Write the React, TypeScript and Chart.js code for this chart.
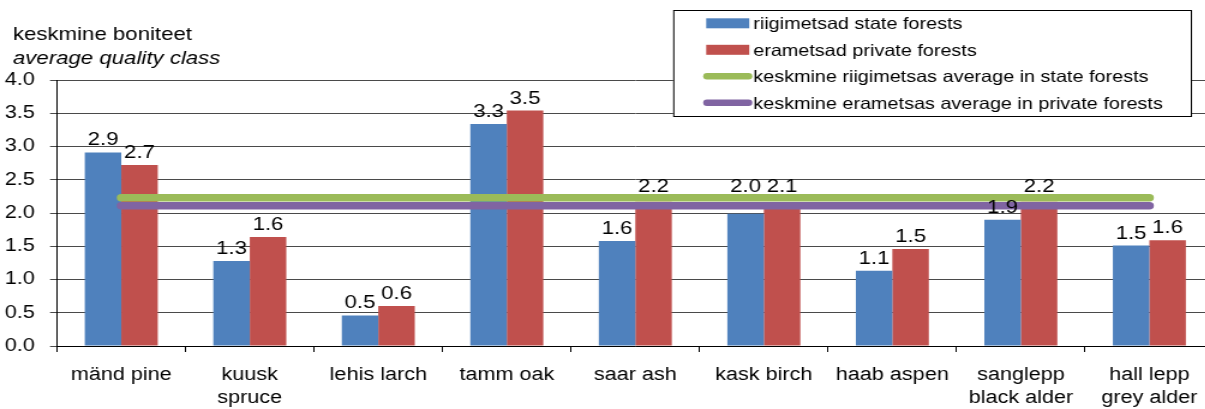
import React, { useEffect, useRef } from 'react';
import { Chart, registerables } from 'chart.js';

Chart.register(...registerables);

// ---- data ----
const CATEGORIES: (string | string[])[] = [
  'mänd pine',
  ['kuusk', 'spruce'],
  'lehis larch',
  'tamm oak',
  'saar ash',
  'kask birch',
  'haab aspen',
  ['sanglepp', 'black alder'],
  ['hall lepp', 'grey alder'],
];
const STATE_FORESTS = [2.91, 1.28, 0.46, 3.34, 1.58, 1.99, 1.13, 1.9, 1.51];
const PRIVATE_FORESTS = [2.72, 1.64, 0.6, 3.54, 2.17, 2.08, 1.46, 2.17, 1.59];
const STATE_AVERAGE = [2.23, 2.23, 2.23, 2.23, 2.23, 2.23, 2.23, 2.23, 2.23];
const PRIVATE_AVERAGE = [2.11, 2.11, 2.11, 2.11, 2.11, 2.11, 2.11, 2.11, 2.11];
const Y_TICKS = [0, 0.5, 1, 1.5, 2, 2.5, 3, 3.5, 4];
const SERIES_NAMES = [
  'riigimetsad state forests',
  'erametsad private forests',
  'keskmine riigimetsas average in state forests',
  'keskmine erametsas average in private forests',
];
const AXIS_TITLE = ['keskmine boniteet', 'average quality class'];

// ---- look ----
const FONT = '"Liberation Sans", Arial, sans-serif';
const BLUE = '#4F81BD';
const RED = '#C0504D';
const GREEN = '#9BBB59';
const PURPLE = '#8064A2';
const AVG_LINE_WIDTH = 7.5;
const STRETCH = 1.2; // the reference is drawn horizontally stretched
const CANVAS_W = 1013;
const CANVAS_H = 409;

const axisTitlePlugin = {
  id: 'axisTitle',
  afterDraw(chart: any) {
    const ctx = chart.ctx;
    ctx.save();
    ctx.fillStyle = '#000';
    ctx.textAlign = 'left';
    ctx.textBaseline = 'alphabetic';
    ctx.font = `18.5px ${FONT}`;
    ctx.fillText(AXIS_TITLE[0], 10.8, 40);
    ctx.font = `italic 18.5px ${FONT}`;
    ctx.fillText(AXIS_TITLE[1], 10.8, 64);
    ctx.restore();
  },
};

const valueLabelPlugin = {
  id: 'valueLabels',
  afterDatasetsDraw(chart: any) {
    const ctx = chart.ctx;
    const yScale = chart.scales.y;
    // band covered by the two average lines; labels falling into it are lifted above it
    const bandTop = yScale.getPixelForValue(STATE_AVERAGE[0]) - AVG_LINE_WIDTH / 2;
    const bandBottom = yScale.getPixelForValue(PRIVATE_AVERAGE[0]) + AVG_LINE_WIDTH / 2;
    ctx.save();
    ctx.fillStyle = '#000';
    ctx.font = `18.5px ${FONT}`;
    ctx.textAlign = 'center';
    ctx.textBaseline = 'alphabetic';
    chart.data.datasets.forEach((ds: any, di: number) => {
      if (ds.type !== 'bar') return;
      const meta = chart.getDatasetMeta(di);
      meta.data.forEach((el: any, i: number) => {
        const v = ds.data[i] as number;
        let base = el.y - 7;
        if (base > bandTop && base - 13 < bandBottom && base < bandBottom + 2) {
          base = bandTop - 1.5;
        }
        ctx.fillText(v.toFixed(1), el.x, base);
      });
    });
    ctx.restore();
  },
};

const legendBoxPlugin = {
  id: 'legendBox',
  afterDraw(chart: any) {
    const ctx = chart.ctx;
    const left = 560.8;
    const right = 993;
    const top = 10;
    const bottom = 117;
    ctx.save();
    ctx.fillStyle = '#fff';
    ctx.fillRect(left, top, right - left, bottom - top);
    ctx.strokeStyle = '#000';
    ctx.lineWidth = 1;
    ctx.strokeRect(left + 0.5, top + 0.5, right - left - 1, bottom - top - 1);
    const baselines = [29, 55.5, 82, 108.5];
    chart.data.datasets.forEach((ds: any, di: number) => {
      const base = baselines[di];
      const mid = base - 5.7;
      if (ds.type === 'bar') {
        ctx.fillStyle = ds.backgroundColor;
        ctx.fillRect(588.3, mid - 5, 35.9, 10);
      } else {
        ctx.strokeStyle = ds.borderColor;
        ctx.lineWidth = 6.5;
        ctx.lineCap = 'round';
        ctx.beginPath();
        ctx.moveTo(589, mid);
        ctx.lineTo(623.5, mid);
        ctx.stroke();
      }
      ctx.fillStyle = '#000';
      ctx.font = `16.5px ${FONT}`;
      ctx.textAlign = 'left';
      ctx.textBaseline = 'alphabetic';
      ctx.fillText(ds.label, 627.5, base);
    });
    ctx.restore();
  },
};

export default function App() {
  const canvasRef = useRef<HTMLCanvasElement | null>(null);

  useEffect(() => {
    document.body.style.margin = '0';
    const canvas = canvasRef.current;
    if (!canvas) return;
    Chart.defaults.font.family = FONT;
    Chart.defaults.color = '#000';
    const chart = new Chart(canvas, {
      type: 'bar',
      data: {
        labels: CATEGORIES as any,
        datasets: [
          {
            type: 'bar',
            label: SERIES_NAMES[0],
            data: STATE_FORESTS,
            backgroundColor: BLUE,
            borderWidth: 0,
            order: 1,
          },
          {
            type: 'bar',
            label: SERIES_NAMES[1],
            data: PRIVATE_FORESTS,
            backgroundColor: RED,
            borderWidth: 0,
            order: 1,
          },
          {
            type: 'line',
            label: SERIES_NAMES[2],
            data: STATE_AVERAGE,
            borderColor: GREEN,
            backgroundColor: GREEN,
            borderWidth: AVG_LINE_WIDTH,
            borderCapStyle: 'round',
            pointRadius: 0,
            fill: false,
            order: 0,
          },
          {
            type: 'line',
            label: SERIES_NAMES[3],
            data: PRIVATE_AVERAGE,
            borderColor: PURPLE,
            backgroundColor: PURPLE,
            borderWidth: AVG_LINE_WIDTH,
            borderCapStyle: 'round',
            pointRadius: 0,
            fill: false,
            order: 0,
          },
        ] as any,
      },
      options: {
        responsive: false,
        animation: false,
        devicePixelRatio: 1,
        layout: { padding: { top: 80, right: 2, left: 0, bottom: 0 } },
        datasets: {
          bar: { barPercentage: 1, categoryPercentage: 0.568 },
        },
        plugins: {
          legend: { display: false },
          tooltip: { enabled: false },
          title: { display: false },
        },
        scales: {
          x: {
            type: 'category',
            offset: true,
            grid: {
              display: true,
              drawOnChartArea: false,
              drawTicks: true,
              tickLength: 6,
              color: '#000',
              offset: true,
            },
            border: { display: true, color: '#000', width: 1 },
            ticks: {
              color: '#000',
              font: { size: 18, lineHeight: 1.28 },
              padding: 11.5,
              maxRotation: 0,
              minRotation: 0,
              autoSkip: false,
            },
            afterFit: (s: any) => {
              s.height = 63;
            },
          },
          y: {
            type: 'linear',
            min: 0,
            max: 4,
            afterBuildTicks: (s: any) => {
              s.ticks = Y_TICKS.map((v) => ({ value: v }));
            },
            ticks: {
              color: '#000',
              font: { size: 18 },
              padding: 12.7,
              callback: (v: any) => Number(v).toFixed(1),
            },
            grid: {
              color: '#4a4a4a',
              lineWidth: 1,
              drawTicks: true,
              tickLength: 5.8,
            },
            border: { display: true, color: '#000', width: 1 },
            afterFit: (s: any) => {
              s.width = 47.5;
            },
          },
        },
      } as any,
      plugins: [axisTitlePlugin, valueLabelPlugin, legendBoxPlugin],
    });
    return () => {
      chart.destroy();
    };
  }, []);

  return (
    <div style={{ width: 1205, height: 409, overflow: 'hidden', background: '#fff' }}>
      <canvas
        ref={canvasRef}
        width={CANVAS_W}
        height={CANVAS_H}
        style={{ width: `${CANVAS_W * STRETCH}px`, height: `${CANVAS_H}px`, display: 'block' }}
      />
    </div>
  );
}
